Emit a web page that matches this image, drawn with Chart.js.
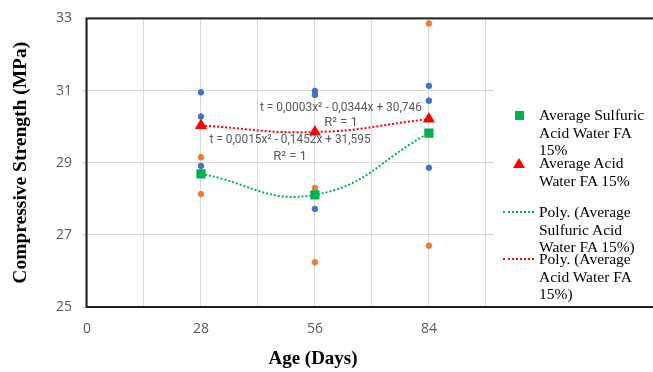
<!DOCTYPE html>
<html>
<head>
<meta charset="utf-8">
<script src="https://cdn.jsdelivr.net/npm/chart.js@4.4.1/dist/chart.umd.min.js"></script>
<style>
    body { margin: 0; background: #fff; }
    #wrap { position: relative; width: 653px; height: 372px; }
    .legend-item {
        position: absolute;
        left: 539px;
        width: 110px;
        font: 15.5px "Liberation Serif", "Times New Roman", serif;
        line-height: 17.5px;
        color: #000;
    }
    .mark { position: absolute; }
</style>
</head>
<body>
<div id="wrap">
    <canvas id="myChart" width="653" height="372"></canvas>
    <div id="legend"></div>
</div>
<script>
// ages in days
let days = [28, 56, 84];

// single samples (blue = acid water, orange = sulfuric acid water)
let acidSample1 = [30.95, 30.99, 31.13];
let acidSample2 = [30.28, 30.88, 30.72];
let acidSample3 = [28.91, 27.72, 28.86];
let sulfuricSample1 = [29.15, 28.30, 32.86];
let sulfuricSample2 = [28.13, 26.24, 26.70];
let sulfuricSample3 = [28.72, 29.85, 29.84];

// averages
let avgSulfuric = [28.69, 28.11, 29.82];
let avgAcid = [30.03, 29.85, 30.21];

let xTicks = [0, 14, 28, 42, 56, 70, 84, 98];
let xLabels = [0, 28, 56, 84];
let yTicks = [25, 27, 29, 31, 33];

let eqSulfuric = ['t = 0,0015x\u00b2 - 0,1452x + 31,595', 'R\u00b2 = 1'];
let eqAcid = ['t = 0,0003x\u00b2 - 0,0344x + 30,746', 'R\u00b2 = 1'];

const BLUE = '#4472C4';
const ORANGE = '#ED7D31';
const GREEN = '#00B050';
const RED = '#FF0000';
const GRAY = '#595959';


function points(values) {
    return values.map((v, i) => ({ x: days[i], y: v }));
}


function sampleSet(values, color) {
    return {
        label: '',
        data: points(values),
        backgroundColor: color,
        borderColor: color,
        pointRadius: 2.8,
        showLine: false,
        order: 3
    };
}


const framePlugin = {
    id: 'frame',
    beforeDatasetsDraw(chart) {
        const { ctx, chartArea } = chart;
        ctx.save();
        ctx.strokeStyle = '#1f1f1f';
        ctx.lineWidth = 2;
        ctx.strokeRect(chartArea.left - 0.5, chartArea.top, chart.width, chartArea.bottom - chartArea.top);
        ctx.restore();
    },
    afterDraw(chart) {
        // x axis title sits under the whole frame, not only the plot
        const { ctx } = chart;
        ctx.save();
        ctx.fillStyle = '#000';
        ctx.font = 'bold 19px "Liberation Serif", serif';
        ctx.textAlign = 'center';
        ctx.textBaseline = 'middle';
        ctx.fillText('Age (Days)', 313, 359);
        ctx.restore();
    }
};


const equationPlugin = {
    id: 'equations',
    afterDatasetsDraw(chart) {
        const { ctx } = chart;
        const x = chart.scales.x;
        const y = chart.scales.y;
        ctx.save();
        ctx.fillStyle = GRAY;
        ctx.font = '13px Roboto, "Liberation Sans", sans-serif';
        ctx.textAlign = 'center';
        ctx.textBaseline = 'middle';
        let ax = x.getPixelForValue(62.4);
        let ay = y.getPixelForValue(30.53);
        ctx.fillText(eqAcid[0], ax, ay, 162);
        ctx.fillText(eqAcid[1], ax, ay + 15);
        let sx = x.getPixelForValue(49.9);
        let sy = y.getPixelForValue(29.63);
        ctx.fillText(eqSulfuric[0], sx, sy, 161);
        ctx.fillText(eqSulfuric[1], sx, sy + 17);
        ctx.restore();
    }
};


function renderLegend() {
    let items = [
        { text: 'Average Sulfuric Acid Water FA 15%', top: 106, mark: 'square', color: GREEN, my: 115 },
        { text: 'Average Acid Water FA 15%', top: 154, mark: 'triangle', color: RED, my: 163 },
        { text: 'Poly. (Average Sulfuric Acid Water FA 15%)', top: 203, mark: 'line', color: GREEN, my: 212 },
        { text: 'Poly. (Average Acid Water FA 15%)', top: 250, mark: 'line', color: RED, my: 259 }
    ];
    let html = '';
    for (let item of items) {
        html += `<div class="legend-item" style="top:${item.top}px">${item.text}</div>`;
        if (item.mark == 'square') {
            html += `<div class="mark" style="left:515px;top:${item.my - 4}px;width:9px;height:9px;background:${item.color}"></div>`;
        } else if (item.mark == 'triangle') {
            html += `<div class="mark" style="left:513px;top:${item.my - 5}px;width:0;height:0;border-left:6px solid transparent;border-right:6px solid transparent;border-bottom:10px solid ${item.color}"></div>`;
        } else {
            html += `<div class="mark" style="left:503px;top:${item.my - 1}px;width:31px;border-top:2px dotted ${item.color}"></div>`;
        }
    }
    document.getElementById('legend').innerHTML = html;
}


function drawChart() {
    const ctx = document.getElementById('myChart');

    new Chart(ctx, {
        type: 'scatter',
        data: {
            datasets: [
                {
                    label: 'Average Sulfuric Acid Water FA 15%',
                    data: points(avgSulfuric),
                    pointStyle: 'rect',
                    pointRadius: 6.5,
                    backgroundColor: GREEN,
                    borderColor: GREEN,
                    borderWidth: 0,
                    order: 0
                },
                {
                    label: 'Average Acid Water FA 15%',
                    data: points(avgAcid),
                    pointStyle: 'triangle',
                    pointRadius: 7,
                    backgroundColor: RED,
                    borderColor: RED,
                    borderWidth: 0,
                    order: 0
                },
                {
                    label: 'Poly. (Average Sulfuric Acid Water FA 15%)',
                    type: 'line',
                    data: points(avgSulfuric),
                    borderColor: GREEN,
                    borderWidth: 2,
                    borderDash: [2, 2],
                    pointRadius: 0,
                    tension: 0.45,
                    fill: false,
                    order: 1
                },
                {
                    label: 'Poly. (Average Acid Water FA 15%)',
                    type: 'line',
                    data: points(avgAcid),
                    borderColor: RED,
                    borderWidth: 2,
                    borderDash: [2, 2],
                    pointRadius: 0,
                    tension: 0.45,
                    fill: false,
                    order: 1
                },
                sampleSet(acidSample1, BLUE),
                sampleSet(acidSample2, BLUE),
                sampleSet(acidSample3, BLUE),
                sampleSet(sulfuricSample1, ORANGE),
                sampleSet(sulfuricSample2, ORANGE),
                sampleSet(sulfuricSample3, ORANGE)
            ]
        },
        options: {
            responsive: false,
            animation: false,
            devicePixelRatio: 1,
            layout: {
                padding: { top: 15, right: 159, bottom: 0, left: 0 }
            },
            plugins: {
                legend: { display: false },
                tooltip: { enabled: false }
            },
            scales: {
                x: {
                    type: 'linear',
                    min: 0,
                    max: 100,
                    afterBuildTicks: (scale) => {
                        scale.ticks = xTicks.map(v => ({ value: v }));
                    },
                    afterFit: (scale) => {
                        scale.height = 65;
                    },
                    border: { display: false },
                    grid: {
                        color: '#d9d9d9',
                        drawTicks: false
                    },
                    ticks: {
                        color: GRAY,
                        padding: 14,
                        font: { family: '"Open Sans", sans-serif', size: 14 },
                        callback: (v) => xLabels.includes(v) ? v : ''
                    }
                },
                y: {
                    min: 25,
                    max: 33,
                    afterBuildTicks: (scale) => {
                        scale.ticks = yTicks.map(v => ({ value: v }));
                    },
                    afterFit: (scale) => {
                        scale.width = 87;
                    },
                    border: { display: false },
                    grid: {
                        color: '#d9d9d9',
                        tickLength: 5
                    },
                    ticks: {
                        color: GRAY,
                        padding: 10,
                        font: { family: '"Open Sans", sans-serif', size: 14 }
                    },
                    title: {
                        display: true,
                        text: 'Compressive Strength (MPa)',
                        color: '#000',
                        font: { family: '"Liberation Serif", serif', size: 19.5, weight: 'bold' },
                        padding: { top: 9, bottom: 0 }
                    }
                }
            }
        },
        plugins: [framePlugin, equationPlugin]
    });
}


renderLegend();
drawChart();
</script>
</body>
</html>
